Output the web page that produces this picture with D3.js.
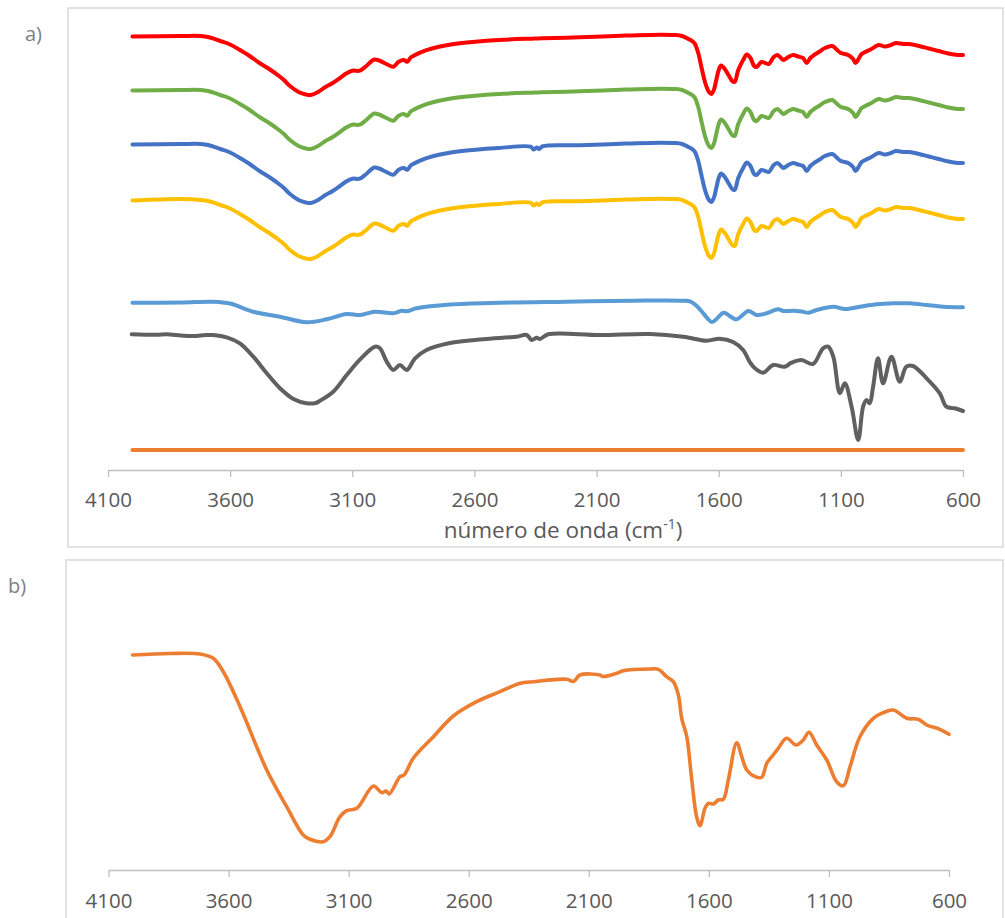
<!DOCTYPE html>
<html lang="es">
<head>
<meta charset="utf-8">
<title>Espectros FTIR</title>
<script src="https://cdn.jsdelivr.net/npm/d3@7/dist/d3.min.js"></script>
<style>
  html, body { margin: 0; padding: 0; background: #ffffff; }
  svg { display: block; }
  text { font-family: "Open Sans", "Noto Sans", sans-serif; }
</style>
</head>
<body>
<script>
// ---- shared axis ticks (cm-1) ----
const tickValues = [4100, 3600, 3100, 2600, 2100, 1600, 1100, 600];
const axisTitle = "número de onda (cm";
const axisTitleSup = "-1";

// ---- panel a: wavenumber grid shared by the four stacked spectra ----
const wnStack = [4000,3800,3720,3690,3640,3600,3560,3520,3480,3440,3400,3380,3355,3320,3290,3270,3240,3210,3180,3150,3125,3100,3070,3045,3010,2990,2960,2932,2910,2890,2875,2860,2820,2770,2660,2500,2370,2358,2345,2335,2320,2170,2000,1840,1780,1750,1720,1700,1685,1670,1655,1640,1630,1620,1610,1600,1590,1575,1560,1545,1535,1520,1500,1485,1470,1455,1445,1425,1410,1395,1375,1360,1345,1335,1315,1295,1275,1255,1240,1225,1210,1190,1165,1135,1115,1100,1070,1050,1040,1030,1015,1000,975,945,920,895,875,845,820,780,740,700,660,620,600];

const tRed = [433.5,434,434,433,429,425.5,420,414,407,401,394,390,384,378,375.5,375,378,383,387,392,396.5,399.3,399.3,403.5,410.5,409.5,406,403.3,408.3,410,408.3,412.7,417.7,421.7,426.7,430,431.3,431.4,431.5,431.6,431.8,432.7,434.3,435.3,435,434,430.5,427,418,402,387,378,376,380,390,400,404.5,401,395,389,388,400,410,415.5,412,404,403,408,407,406,413,415,412,410,413,415,413.5,412,407,412,415,418,422,424,420,417,415,411,407,410,416,418,421,425,423.5,425,427,426,426,424,421.5,419,416.5,415,415];

const tGreen = [379.5,380,380,379,375,371.5,366,360,353,347,340,336,330,324,321.5,321,324,329,333,338,342.5,345.3,345.3,349.5,356.5,355.5,352,349.3,354.3,356,354.3,358.7,363.7,367.7,372.7,376,377.3,377.4,377.5,377.6,377.8,378.7,380.3,381.3,381,380,376.5,373,364,348,333,324,322,326,336,346,350.5,347,341,335,334,346,356,361.5,358,350,349,354,353,352,359,361,358,356,359,361,359.5,358,353,358,361,364,368,370,366,363,361,357,353,356,362,364,367,371,369.5,371,373,372,372,370,367.5,365,362.5,361,361];

const tBlue = [325.5,326,326,325,321,317.5,312,306,299,293,286,282,276,270,267.5,267,270,275,279,284,288.5,291.3,291.3,295.5,302.5,301.5,298,295.3,300.3,302,300.3,304.7,309.7,313.7,318.7,322,323.3,320.5,322.5,321,323.8,324.7,326.3,327.3,327,326,322.5,319,310,294,279,270,268,272,282,292,296.5,293,287,281,280,292,302,307.5,304,296,295,300,299,298,305,307,304,302,305,307,305.5,304,299,304,307,310,314,316,312,309,307,303,299,302,308,310,313,317,315.5,317,319,318,318,316,313.5,311,308.5,307,307];

const tYellow = [269.5,271,270,269,265,261.5,256,250,243,237,230,226,220,214,211.5,211,214,219,223,228,232.5,235.3,235.3,239.5,246.5,245.5,242,239.3,244.3,246,244.3,248.7,253.7,257.7,262.7,266,267.3,264.5,266.5,265,267.8,268.7,270.3,271.3,271,270,266.5,263,254,238,223,214,212,216,226,236,240.5,237,231,225,224,236,246,251.5,248,240,239,244,243,242,249,251,248,246,249,251,249.5,248,243,248,251,254,258,260,256,253,251,247,243,246,252,254,257,261,259.5,261,263,262,262,260,257.5,255,252.5,251,251];

// ---- panel a: light blue spectrum ----
const wnLightBlue = [4000,3800,3670,3600,3506,3396,3287,3205,3123,3068,3007,2932,2898,2878,2837,2700,2495,2223,1951,1745,1715,1690,1663,1628,1605,1580,1527,1479,1445,1404,1357,1335,1295,1260,1233,1199,1131,1083,1022,953,885,817,749,681,600];
const tLightBlue = [167.3,167.5,168.3,166.5,158.3,153.3,147.7,150.7,156,155,158.3,156.7,159.3,158.7,161.7,165.5,167.3,168.3,169.3,169.3,168.3,164,156.7,148,152,157.3,150.7,159,155,156.7,160.7,159,159.3,158.5,157.3,160,163.3,161,163.3,165.7,166.7,166.7,165,163.3,162.7];

// ---- panel a: dark grey spectrum ----
const wnGray = [4003,3900,3860,3800,3751,3700,3669,3614,3560,3505,3450,3396,3341,3287,3250,3232,3178,3123,3068,3007,2987,2959,2932,2905,2877,2843,2796,2700,2564,2427,2386,2366,2345,2332,2298,2086,1881,1745,1650,1596,1541,1500,1473,1452,1418,1377,1330,1302,1261,1214,1173,1152,1131,1104,1084,1056,1029,1009,995,982,968,948,927,893,859,832,805,749,695,668,634,600];
const tGray = [135.7,135.2,135.7,134.5,134,135,135,132.7,126.7,113.3,96.7,81.7,71,66.7,67,69.3,78.3,95,110.7,123.3,121.7,108.3,100,105,100,111.7,120,127,130.7,133.3,135,130,132.2,131,135.7,135,136,133.3,129.3,131.3,128,120,108,101.7,97.3,105,103.3,107.3,110,106,121.7,123.3,113.3,76.7,86.7,63.3,30,63.3,70,66.7,83.3,111.7,86.7,113.3,88.3,103.3,104,91.7,76.7,63.3,61.7,59];

// ---- panel a: flat orange baseline ----
const wnFlat = [4000, 2300, 600];
const tFlat = [20, 20, 20];

// ---- panel b: orange spectrum ----
const wnB = [4000,3844,3719,3664,3622,3552,3441,3358,3289,3261,3206,3178,3136,3108,3066,2997,2962,2944,2931,2886,2869,2831,2747,2664,2567,2470,2386,2331,2192,2164,2137,2053,2041,1984,1956,1845,1810,1776,1748,1727,1713,1692,1671,1651,1637,1616,1602,1581,1561,1540,1519,1484,1463,1442,1407,1380,1359,1332,1311,1276,1237,1207,1183,1151,1109,1068,1040,1012,971,915,874,832,776,728,693,638,600];
const tB = [215,216.5,216,211.7,198.3,163.3,100,63.3,35,30.7,28.3,33.3,53.3,59.3,61.7,84,77.3,79,76,93.3,95,111.7,133.3,154,168.3,178.3,186.7,188.3,190.7,188.5,195,195,193.5,196.7,199.3,201,200.7,193.3,188.3,175,151.7,133.3,90,53.3,44.3,61.7,66.7,66,70,70.7,90,127.3,113.3,100,93.3,92.7,106.7,115,121.7,131.7,125,130,137.7,125,110,88.3,84.3,103.3,133.3,151.7,157.3,160,151.7,150.7,145,140.7,135.7];

// ---- drawing ----
const W = 1005, H = 918;
const svg = d3.select("body").append("svg")
  .attr("width", W).attr("height", H)
  .attr("viewBox", `0 0 ${W} ${H}`);

svg.append("rect").attr("width", W).attr("height", H).attr("fill", "#ffffff");

const frameColor = "#d9d9d9", axisColor = "#bfbfbf", labelColor = "#595959";

// chart frames
svg.append("rect").attr("x", 68).attr("y", 8).attr("width", 935).attr("height", 539)
  .attr("fill", "none").attr("stroke", frameColor).attr("stroke-width", 1.5);
svg.append("rect").attr("x", 66).attr("y", 560).attr("width", 937).attr("height", 380)
  .attr("fill", "none").attr("stroke", frameColor).attr("stroke-width", 1.5);

// panel letters
svg.append("text").attr("x", 25).attr("y", 41).attr("font-size", 20).attr("fill", "#7f7f7f").text("a)");
svg.append("text").attr("x", 8).attr("y", 593).attr("font-size", 20).attr("fill", "#7f7f7f").text("b)");

// scales
const xA = d3.scaleLinear().domain([4100, 600]).range([108, 963]);
const yA = d3.scaleLinear().domain([0, 450]).range([470, 20]);
const xB = d3.scaleLinear().domain([4100, 600]).range([108.5, 949]);
const yB = d3.scaleLinear().domain([0, 300]).range([870, 570]);

function drawAxis(g, scale, pad) {
  g.call(d3.axisBottom(scale).tickValues(tickValues).tickSize(7).tickSizeOuter(0).tickPadding(pad).tickFormat(d3.format("d")));
  g.select(".domain").attr("stroke", axisColor).attr("stroke-width", 1.3);
  g.selectAll(".tick line").attr("stroke", axisColor).attr("stroke-width", 1.3);
  g.selectAll(".tick text").attr("fill", labelColor).attr("font-size", 20.5)
    .attr("font-family", "'Open Sans', sans-serif");
}

drawAxis(svg.append("g").attr("transform", "translate(0,470)"), xA, 15);
drawAxis(svg.append("g").attr("transform", "translate(0,870)"), xB, 16);

// axis title of panel a
const title = svg.append("text").attr("x", 563).attr("y", 538)
  .attr("text-anchor", "middle").attr("fill", labelColor).attr("font-size", 22.5);
title.append("tspan").text(axisTitle);
title.append("tspan").attr("dy", -9).attr("font-size", 14).text(axisTitleSup);
title.append("tspan").attr("dy", 9).text(")");

const zip = (xs, ys) => xs.map((w, i) => [w, ys[i]]).filter(d => d[1] != null);

const lineA = d3.line().x(d => xA(d[0])).y(d => yA(d[1])).curve(d3.curveCatmullRom.alpha(0.5));
const lineB = d3.line().x(d => xB(d[0])).y(d => yB(d[1])).curve(d3.curveCatmullRom.alpha(0.5));

const seriesA = [
  { wn: wnFlat, t: tFlat, color: "#ed7d31" },
  { wn: wnGray, t: tGray, color: "#606060" },
  { wn: wnLightBlue, t: tLightBlue, color: "#5b9bd5" },
  { wn: wnStack, t: tYellow, color: "#ffc000" },
  { wn: wnStack, t: tBlue, color: "#4472c4" },
  { wn: wnStack, t: tGreen, color: "#70ad47" },
  { wn: wnStack, t: tRed, color: "#ff0000" }
];

svg.append("g").selectAll("path").data(seriesA).join("path")
  .attr("d", s => lineA(zip(s.wn, s.t)))
  .attr("fill", "none")
  .attr("stroke", s => s.color)
  .attr("stroke-width", 4)
  .attr("stroke-linejoin", "round")
  .attr("stroke-linecap", "round");

svg.append("path")
  .attr("d", lineB(zip(wnB, tB)))
  .attr("fill", "none")
  .attr("stroke", "#ed7d31")
  .attr("stroke-width", 3.6)
  .attr("stroke-linejoin", "round")
  .attr("stroke-linecap", "round");
</script>
</body>
</html>
